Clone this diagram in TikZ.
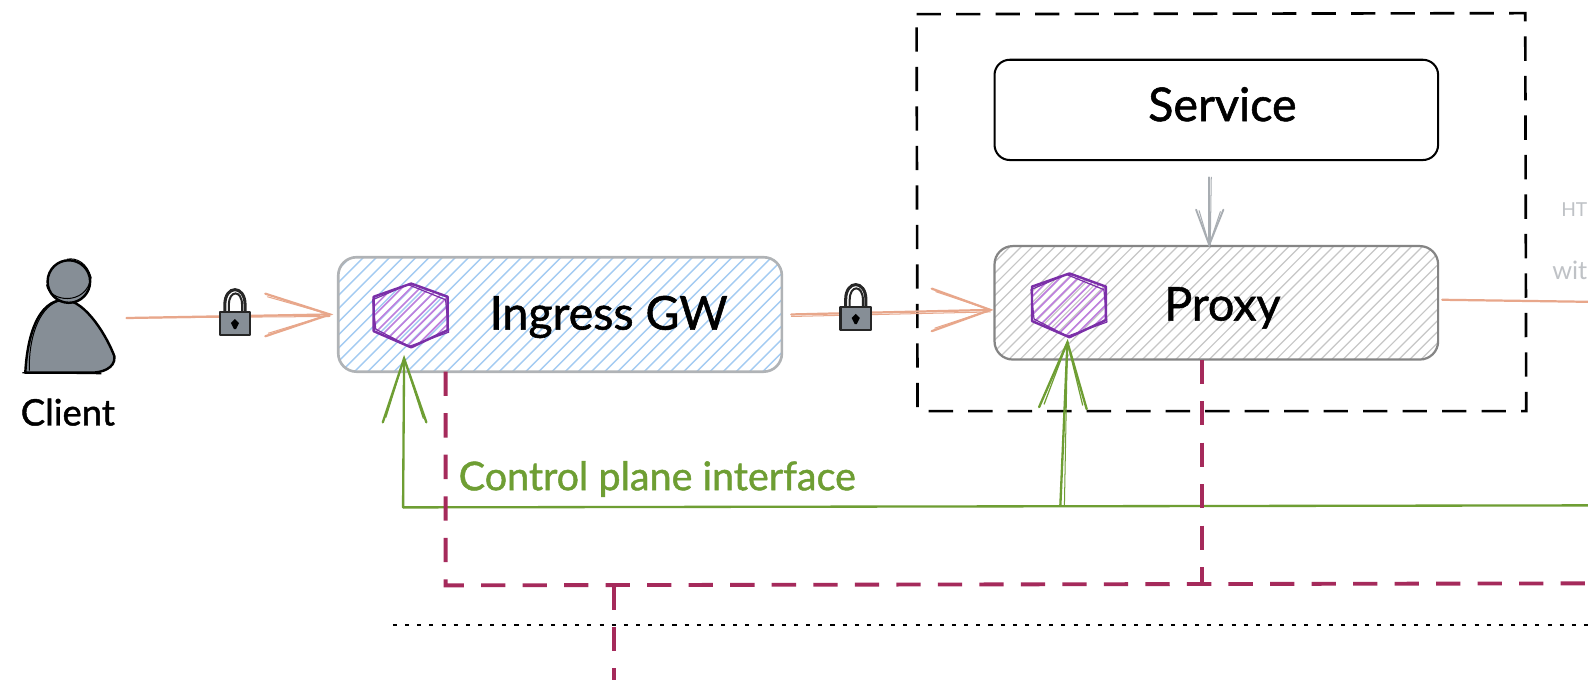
\documentclass[tikz,border=0pt]{standalone}
\usepackage{fontspec}
\setmainfont{Lato}
\newfontfamily\handfont{Lato}[FakeBold=1.2]
\usetikzlibrary{calc}
\definecolor{orangeln}{HTML}{E8A78B}
\definecolor{greenln}{HTML}{6E9E33}
\definecolor{maroonln}{HTML}{A52A5B}
\definecolor{purpleln}{HTML}{7B2FA8}
\definecolor{purplehatch}{HTML}{BE7FDE}
\definecolor{bluehatch}{HTML}{A3CBF2}
\definecolor{grayhatch}{HTML}{C6C6C6}
\definecolor{grayedge}{HTML}{858585}
\definecolor{bluedge}{HTML}{B0B3B6}
\definecolor{personfill}{HTML}{868E96}
\definecolor{graylabel}{HTML}{BFC2C6}
\definecolor{grayarrow}{HTML}{A8ADB2}
\tikzset{
  x=1pt,y=-1pt,
  labeltext/.style={font=\handfont\fontsize{46}{48}\selectfont,text=black,inner sep=0pt},
  boxshape/.style={rectangle,rounded corners=18pt,minimum width=438pt,inner sep=0pt},
  whitebox/.style={boxshape,draw=black,line width=2pt,minimum height=99pt,rounded corners=15pt},
  ingressbox/.style={boxshape,draw=bluedge,line width=2.6pt,minimum height=113pt,
    path picture={\begin{scope}[y=1pt]\foreach \h in {-140,-127,...,600}{\draw[bluehatch,line width=1.4pt] ($(path picture bounding box.south west)+(\h,0)$) -- ++(130,130);}\end{scope}}},
  proxybox/.style={boxshape,draw=grayedge,line width=2.2pt,minimum height=112pt,
    path picture={\begin{scope}[y=1pt]\foreach \h in {-140,-129,...,600}{\draw[grayhatch,line width=1.2pt] ($(path picture bounding box.south west)+(\h,0)$) -- ++(130,130);}\end{scope}}},
  hexedge/.style={draw=purpleln,line width=2.4pt,line join=round},
  orangeline/.style={draw=orangeln,line width=2.2pt,line cap=round},
  greenline/.style={draw=greenln,line width=2.3pt,line cap=round},
  maroonline/.style={draw=maroonln,line width=3.8pt,dash pattern=on 24pt off 17pt},
  blackdash/.style={draw=black,line width=2.6pt,dash pattern=on 24pt off 15pt},
  dotline/.style={draw=black,line width=2pt,dash pattern=on 4pt off 8pt},
  grayline/.style={draw=grayarrow,line width=1.8pt,line cap=round},
  personline/.style={draw=black,line width=2.4pt,fill=personfill,line join=round},
  lockbody/.style={draw=black!85,line width=2.4pt,fill=personfill,line join=round},
}
\newcommand{\hexshape}[1]{%
  \begin{scope}[shift={(#1)}]
    \begin{scope}
      \clip (2,-31) -- (38,-18) -- (38,15) -- (2,32) -- (-35,16) -- (-35,-18) -- cycle;
      \foreach \h in {-70,-61,...,70}{\draw[purplehatch,line width=1.6pt] (\h-35,35) -- (\h+35,-35);}
    \end{scope}
    \draw[hexedge] (2,-31) -- (38,-18) -- (38,15) -- (2,32) -- (-35,16) -- (-35,-18) -- cycle;
    \draw[draw=purpleln,line width=1.2pt,line join=round] (-1,-30) -- (36,-15) -- (39,17) -- (0,31) -- (-33,14) -- (-36,-15) -- cycle;
  \end{scope}}
\newcommand{\lockshape}[1]{%
  \begin{scope}[shift={(#1)}]
    \draw[draw=black!85,line width=3pt] (-10,0) -- (-10,-9) .. controls (-10,-29) and (10,-29) .. (10,-9) -- (10,0);
    \draw[draw=black!85,line width=2pt] (-6,0) -- (-6,-9) .. controls (-6,-24) and (7,-24) .. (7,-9) -- (7,0);
    \draw[lockbody] (-15,-2) rectangle (15,21);
    \fill[black] (0,5) -- (4,9) -- (1,15) -- (-1,15) -- (-4,9) -- cycle;
  \end{scope}}
\begin{document}
\begin{tikzpicture}
\useasboundingbox (0,0) rectangle (1568,671.4);
\fill[white] (0,0) rectangle (1568,671.4);

% container
\draw[blackdash] (905,14) -- (1506,13) -- (1507,406) -- (906,406) -- cycle;

% boxes
\node[whitebox] (service) at (1201,108.5) {};
\node[labeltext] (servicelabel) at (1207,103) {Service};
\node[proxybox] (proxy) at (1201,299) {};
\node[ingressbox] (ingress) at (553,310.5) {};

% hexagons
\coordinate (hexingress) at (404,311);
\coordinate (hexproxy) at (1054,301);
\hexshape{hexingress}
\hexshape{hexproxy}
\node[labeltext] (ingresslabel) at (601,313) {Ingress GW};
\node[labeltext] (proxylabel) at (1207,304) {Proxy};

% client person
\coordinate (clienttop) at (68,278);
\draw[personline] (25,368) .. controls (27,330) and (38,297) .. (63,296) .. controls (85,296) and (107,335) .. (113,352) .. controls (114,364) and (100,368) .. (90,368) -- cycle;
\draw[draw=black,line width=1pt] (29,366) .. controls (28,335) and (38,305) .. (56,298);
\draw[personline] (clienttop) circle[radius=21];
\draw[draw=black,line width=1pt] (46,281) .. controls (48,298) and (85,303) .. (90,274) .. controls (86,260) and (76,254) .. (66,256);
\draw[draw=black,line width=1.2pt] (22,368) -- (100,369);
\node[labeltext,font=\handfont\fontsize{36}{38}\selectfont] (clientlabel) at (67,407) {Client};

% orange connectors
\coordinate (clientout) at (125,314);
\coordinate (tipa) at ([xshift=-7pt]ingress.west);
\draw[orangeline] (clientout) -- (tipa);
\draw[orangeline,line width=1pt] (clientout) -- ([yshift=-2pt]tipa);
\draw[orangeline] (262,290) -- (tipa) -- (262,332);
\draw[orangeline,line width=1pt] (264,293) -- (tipa) -- (265,329);

\coordinate (tipb) at ([xshift=-3pt,yshift=-7pt]proxy.west);
\draw[orangeline] ([xshift=8pt]ingress.east) -- (tipb);
\draw[orangeline,line width=1pt] ([xshift=8pt,yshift=-2pt]ingress.east) -- ([yshift=-2pt]tipb);
\draw[orangeline] (920,285) -- (tipb) -- (920,327);
\draw[orangeline,line width=1pt] (924,288) -- (tipb) -- (923,324);

\coordinate (outright) at (1568,298);
\draw[orangeline] ([xshift=3pt,yshift=3pt]proxy.east) -- (outright);

% locks
\coordinate (locka) at (232,310);
\coordinate (lockb) at (845,305);
\lockshape{locka}
\lockshape{lockb}

% gray connector
\coordinate (grayfrom) at (1194,175);
\coordinate (graytip) at ([xshift=-7pt]proxy.north);
\draw[grayline] (grayfrom) -- (graytip);
\draw[grayline,line width=1pt] ([xshift=2pt]grayfrom) -- ([xshift=1pt]graytip);
\draw[grayline] (1181,207) -- (graytip) -- (1208,207);
\draw[grayline,line width=1pt] (1184,208) -- (graytip) -- (1205,209);

% green connectors
\coordinate (greenleft) at (398,501);
\coordinate (greenmid) at (1047,499);
\coordinate (greenright) at (1568,499);
\coordinate (tipc) at (399,354);
\coordinate (tipd) at (1054,338);
\draw[greenline] (greenleft) -- (greenright);
\draw[greenline] (greenleft) -- (tipc);
\draw[greenline] (378,417) -- (tipc) -- (421,417);
\draw[greenline,line width=1.2pt] (381,412) -- (tipc) -- (418,413);
\draw[greenline] (greenmid) -- (tipd);
\draw[greenline,line width=1pt] (1051,499) -- (tipd);
\draw[greenline] (1026,402) -- (tipd) -- (1073,404);
\draw[greenline,line width=1.2pt] (1031,399) -- (tipd) -- (1069,400);
\node[labeltext,text=greenln,font=\handfont\fontsize{39}{41}\selectfont] (cplabel) at (649,473) {Control plane interface};

% maroon connectors
\coordinate (busleft) at (440,578);
\coordinate (busright) at (1568,576);
\coordinate (busproxy) at (1187,576);
\coordinate (busdown) at (606,578);
\coordinate (busend) at (606,671.4);
\coordinate (ingressdrop) at (440,367);
\draw[maroonline] (ingressdrop) -- (busleft) -- (busright);
\draw[maroonline] (1187,355) -- (busproxy);
\draw[maroonline] (busdown) -- (busend);

% dotted line
\coordinate (dota) at (388,617);
\coordinate (dotb) at (1568,617);
\draw[dotline] (dota) -- (dotb);

% labels at the right edge
\node[text=graylabel,font=\fontsize{19}{21}\selectfont,inner sep=0pt,anchor=east] (httplabel) at (1567.5,207) {HT};
\node[text=graylabel,font=\fontsize{25}{27}\selectfont,inner sep=0pt,anchor=east] (withlabel) at (1567.5,267) {wit};
\end{tikzpicture}
\end{document}
